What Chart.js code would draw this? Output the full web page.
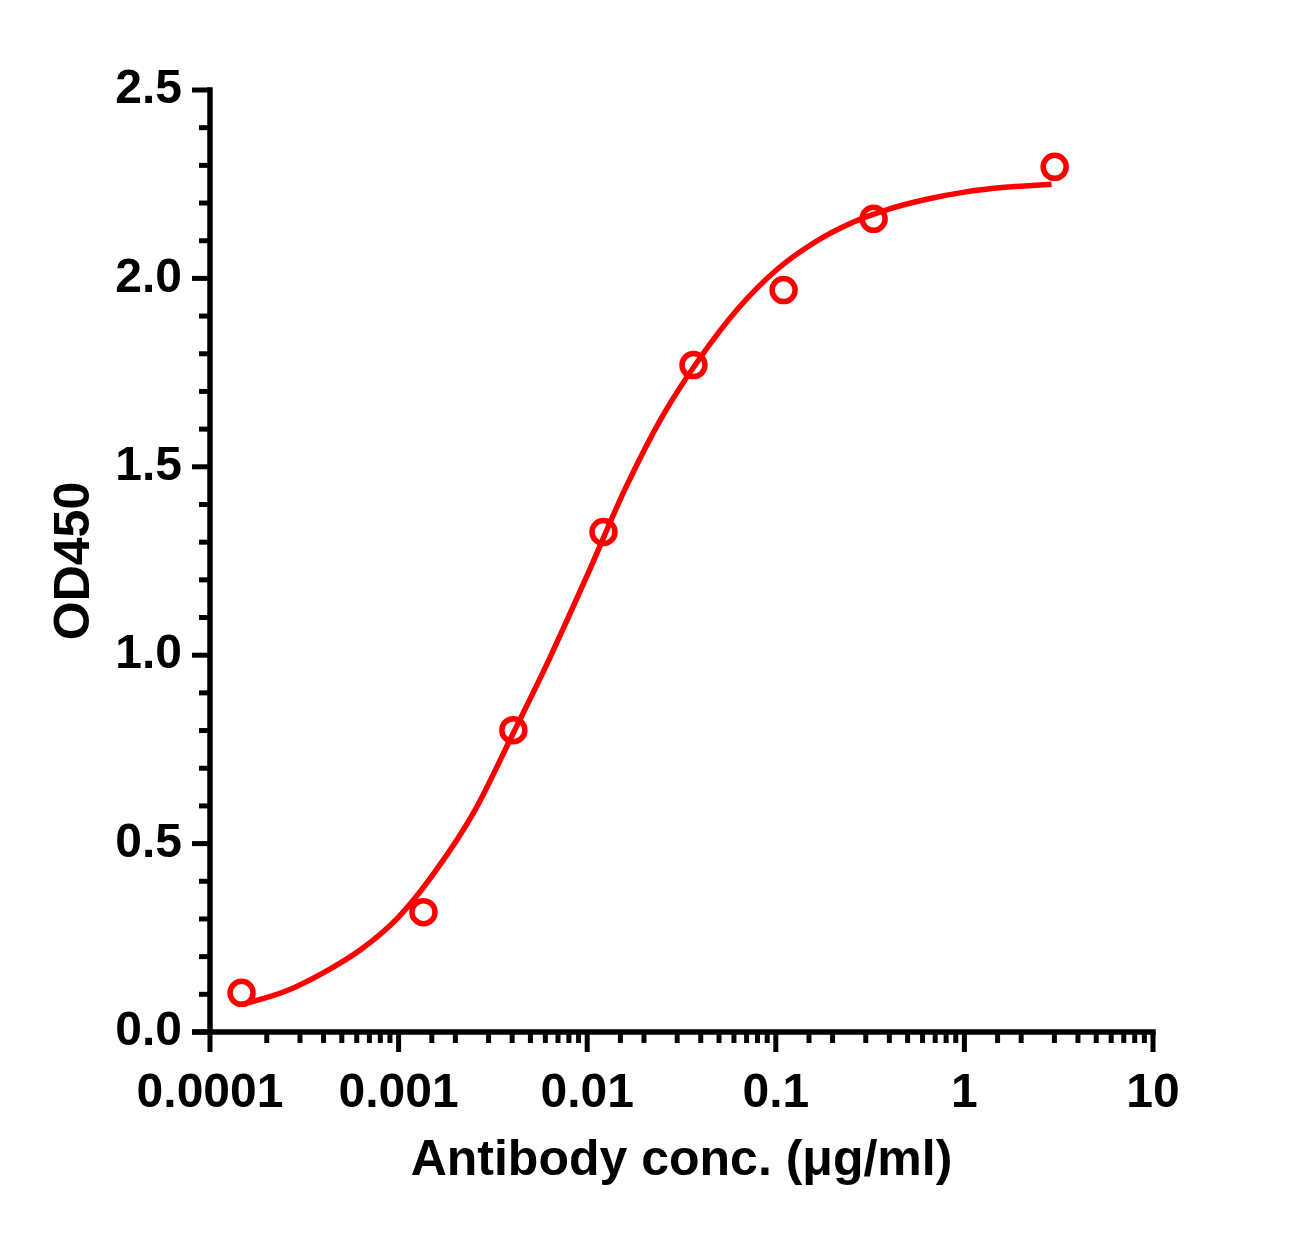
<!DOCTYPE html>
<html>
<head>
<meta charset="utf-8">
<script src="https://cdn.jsdelivr.net/npm/chart.js@4"></script>
<style>
  html, body { margin: 0; padding: 0; background: #fff; }
  #wrap { width: 1308px; height: 1236px; position: relative; }
</style>
</head>
<body>
<div id="wrap"><canvas id="c"></canvas></div>
<script>
// ---- data ----
const concentrations = [0.000147, 0.001355, 0.00406, 0.0122, 0.0366, 0.110, 0.330, 3.01];
const od450 = [0.104, 0.318, 0.801, 1.327, 1.770, 1.969, 2.158, 2.296];

// fitted curve
const curveX = [0.0001486, 0.0002512, 0.0003981, 0.000631, 0.001, 0.001585, 0.002512, 0.003981, 0.00631, 0.01, 0.01585, 0.02512, 0.03981, 0.0631, 0.1, 0.1585, 0.2512, 0.3981, 0.631, 1, 1.585, 2.897];
const curveY = [0.073, 0.108, 0.157, 0.219, 0.305, 0.430, 0.584, 0.785, 0.991, 1.212, 1.440, 1.635, 1.790, 1.920, 2.021, 2.094, 2.147, 2.184, 2.210, 2.229, 2.241, 2.250];

const xTickLabels = ['0.0001', '0.001', '0.01', '0.1', '1', '10'];
const yTickLabels = ['0.0', '0.5', '1.0', '1.5', '2.0', '2.5'];
const xTitle = 'Antibody conc. (μg/ml)';
const yTitle = 'OD450';

const RED = '#ff0000';
const FONT = "'Liberation Sans', Arial, Helvetica, sans-serif";

const isDecade = v => Math.abs(Math.log10(v) - Math.round(Math.log10(v))) < 1e-6;
const isHalf = v => Math.abs(v * 2 - Math.round(v * 2)) < 1e-6;

const axesPlugin = {
  id: 'axesPlugin',
  afterDraw(chart) {
    const { ctx, chartArea } = chart;
    const xs = chart.scales.x, ys = chart.scales.y;
    const left = chartArea.left, bottom = chartArea.bottom, top = chartArea.top, right = chartArea.right;
    ctx.save();
    ctx.strokeStyle = '#000';
    ctx.lineWidth = 5.5;
    ctx.lineCap = 'butt';
    // axis lines
    ctx.beginPath();
    ctx.moveTo(left, top - 2.75);
    ctx.lineTo(left, bottom + 2.75);
    ctx.moveTo(left - 18, bottom);
    ctx.lineTo(right + 2.75, bottom);
    ctx.stroke();
    ctx.lineWidth = 5;
    // y ticks
    ys.ticks.forEach(t => {
      const py = ys.getPixelForValue(t.value);
      const len = isHalf(t.value) ? 18 : 11;
      ctx.beginPath();
      ctx.moveTo(left - len, py);
      ctx.lineTo(left, py);
      ctx.stroke();
    });
    // x ticks
    xs.ticks.forEach(t => {
      const px = xs.getPixelForValue(t.value);
      const len = isDecade(t.value) ? 20 : 11;
      ctx.beginPath();
      ctx.moveTo(px, bottom);
      ctx.lineTo(px, bottom + len);
      ctx.stroke();
    });
    ctx.restore();
  }
};

new Chart(document.getElementById('c'), {
  type: 'scatter',
  data: {
    datasets: [
      {
        type: 'line',
        label: 'fit',
        data: curveX.map((x, i) => ({ x, y: curveY[i] })),
        borderColor: RED,
        borderWidth: 5.5,
        pointRadius: 0,
        cubicInterpolationMode: 'monotone',
        fill: false,
        clip: false
      },
      {
        label: 'data',
        data: concentrations.map((x, i) => ({ x, y: od450[i] })),
        pointStyle: 'circle',
        pointRadius: 11.5,
        pointBorderWidth: 5.5,
        borderColor: RED,
        backgroundColor: 'rgba(0,0,0,0)',
        pointBackgroundColor: 'rgba(0,0,0,0)',
        showLine: false,
        clip: false
      }
    ]
  },
  options: {
    responsive: true,
    maintainAspectRatio: false,
    devicePixelRatio: 1,
    animation: false,
    layout: { padding: { left: 0, top: 90, right: 155, bottom: 0 } },
    plugins: { legend: { display: false }, tooltip: { enabled: false } },
    scales: {
      x: {
        type: 'logarithmic',
        min: 0.0001,
        max: 10,
        grid: { display: false, drawTicks: false },
        border: { display: false },
        afterFit(scale) { scale.height = 204; },
        ticks: {
          autoSkip: false,
          maxRotation: 0,
          minRotation: 0,
          padding: 33,
          color: '#000',
          font: { family: FONT, size: 48, weight: 'bold' },
          callback(value) {
            if (!isDecade(value)) return '';
            return xTickLabels[Math.round(Math.log10(value)) + 4];
          }
        },
        title: {
          display: true,
          text: xTitle,
          color: '#000',
          font: { family: FONT, size: 50, weight: 'bold' },
          padding: { top: 0, bottom: 45 }
        }
      },
      y: {
        type: 'linear',
        min: 0,
        max: 2.5,
        grid: { display: false, drawTicks: false },
        border: { display: false },
        afterFit(scale) { scale.width = 210; },
        ticks: {
          stepSize: 0.1,
          autoSkip: false,
          padding: 28,
          color: '#000',
          font: { family: FONT, size: 48, weight: 'bold' },
          callback(value) {
            if (!isHalf(value)) return '';
            return yTickLabels[Math.round(value * 2)];
          }
        },
        title: {
          display: true,
          text: yTitle,
          color: '#000',
          font: { family: FONT, size: 50, weight: 'bold' },
          padding: { top: 45, bottom: 0 }
        }
      }
    }
  },
  plugins: [axesPlugin]
});
</script>
</body>
</html>
